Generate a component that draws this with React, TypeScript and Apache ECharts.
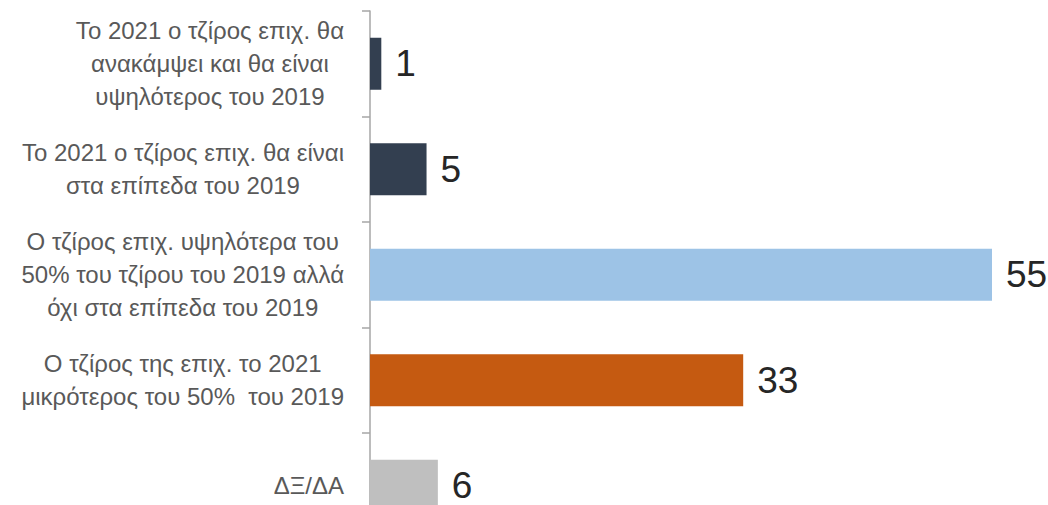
import React, { useEffect, useRef } from "react";
import * as echarts from "echarts";

const categories = [
  "Το 2021 ο τζίρος επιχ. θα\nανακάμψει και θα είναι\nυψηλότερος του 2019",
  "Το 2021 ο τζίρος επιχ. θα είναι\nστα επίπεδα του 2019",
  "Ο τζίρος επιχ. υψηλότερα του\n50% του τζίρου του 2019 αλλά\nόχι στα επίπεδα του 2019",
  "Ο τζίρος της επιχ. το 2021\nμικρότερος του 50%  του 2019",
  "ΔΞ/ΔΑ",
];
const values = [1, 5, 55, 33, 6];
const barColors = ["#333F50", "#333F50", "#9DC3E6", "#C55A11", "#BFBFBF"];

export default function App() {
  const ref = useRef<HTMLDivElement>(null);
  useEffect(() => {
    if (!ref.current) return;
    const chart = echarts.init(ref.current, undefined, { renderer: "svg" });
    chart.setOption({
      animation: false,
      grid: { left: 370, top: 11, width: 622, height: 527.5, containLabel: false },
      xAxis: { type: "value", min: 0, max: 55, show: false },
      yAxis: {
        type: "category",
        inverse: true,
        data: categories,
        axisLine: { show: true, lineStyle: { color: "#A6A6A6", width: 1.5 } },
        axisTick: { show: true, length: 8, lineStyle: { color: "#A6A6A6", width: 1.5 } },
        axisLabel: {
          margin: 26,
          align: "right",
          formatter: (v: string) =>
            v
              .split("\n")
              .map((l) => `{c|${l}}`)
              .join("\n"),
          rich: {
            c: {
              align: "center",
              fontFamily: "Liberation Sans",
              fontSize: 24,
              lineHeight: 33,
              color: "#595959",
            },
          },
        },
      },
      series: [
        {
          type: "bar",
          barWidth: 52,
          data: values.map((v, i) => ({ value: v, itemStyle: { color: barColors[i] } })),
          label: {
            show: true,
            position: "right",
            distance: 14,
            fontFamily: "Liberation Sans",
            fontSize: 37,
            color: "#262626",
          },
        },
      ],
    });
    return () => chart.dispose();
  }, []);
  return (
    <div style={{ position: "absolute", left: 0, top: 0, width: 1048, height: 505, overflow: "hidden", background: "#fff" }}>
      <div ref={ref} style={{ width: 1048, height: 545 }} />
    </div>
  );
}
